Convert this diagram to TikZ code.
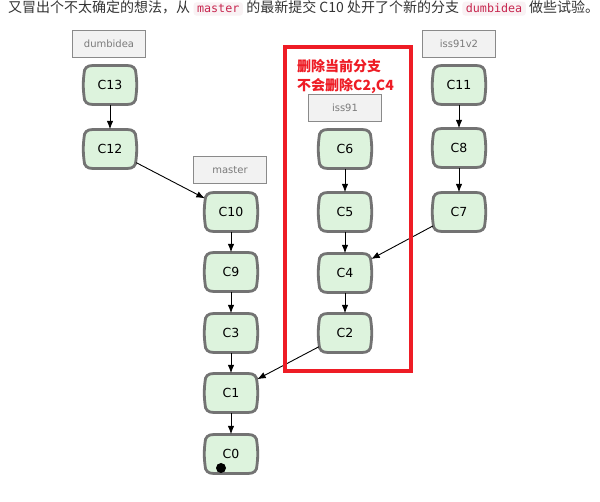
\documentclass[tikz,border=0pt]{standalone}
\usepackage{fontspec}
\setmainfont{DejaVu Sans}
\newfontfamily\cjk{Noto Sans CJK SC}
\newfontfamily\codefont{DejaVu Sans Mono}
\usetikzlibrary{arrows.meta,calc}
\definecolor{commitfill}{HTML}{DDF3DD}
\definecolor{commitdraw}{HTML}{737373}
\definecolor{branchfill}{HTML}{F2F2F2}
\definecolor{branchdraw}{HTML}{8A8A8A}
\definecolor{branchtext}{HTML}{7A7A7A}
\definecolor{alertred}{HTML}{EE1C25}
\definecolor{codered}{HTML}{C7254E}
\definecolor{codebg}{HTML}{F9F2F4}
\definecolor{toptextcol}{HTML}{333333}
\tikzset{
  commit/.style={rectangle, minimum width=52pt, minimum height=39pt, inner sep=0pt, font=\fontsize{12.5}{14}\selectfont},
  commitline/.style={draw=commitdraw, fill=commitfill, line width=2.8pt},
  branch/.style={rectangle, draw=branchdraw, fill=branchfill, line width=1.4pt, minimum width=73pt, minimum height=27pt, inner sep=0pt, text=branchtext, font=\fontsize{10}{12}\selectfont},
  parent/.style={-{Latex[length=8.5pt,width=6.5pt]}, line width=0.9pt, black},
  toptext/.style={inner sep=0pt, text=toptextcol, font=\cjk\fontsize{14}{16}\selectfont},
  code/.style={inner xsep=3.5pt, inner ysep=2.5pt, fill=codebg, rounded corners=3pt, text=codered, font=\codefont\fontsize{11.7}{14}\selectfont},
  alertbox/.style={draw=alertred, line width=4pt},
  alerttext/.style={align=left, inner sep=0pt, text=alertred, font=\cjk\bfseries\fontsize{14}{19}\selectfont}
}
\newcommand\commit[3]{%
  \path[commitline, shift={(#2)}] (-17,-19.5) -- (17,-19.5)
    .. controls (23,-19.5) and (26,-17) .. (26,-11)
    .. controls (27,-4) and (27,4) .. (26,11)
    .. controls (26,17) and (23,19.5) .. (17,19.5) -- (-17,19.5)
    .. controls (-23,19.5) and (-26,17) .. (-26,11)
    .. controls (-27,4) and (-27,-4) .. (-26,-11)
    .. controls (-26,-17) and (-23,-19.5) .. (-17,-19.5) -- cycle;
  \node[commit] (#1) at (#2) {#3};}
\begin{document}
\begin{tikzpicture}[x=1pt,y=-1pt]
\useasboundingbox[fill=white] (0,0) rectangle (600,502);
% top text
\node[toptext, anchor=base west] (t1) at (8,13) {又冒出个不太确定的想法，从};
\node[code, anchor=base west] (t2) at ([xshift=3pt]t1.base east) {master};
\node[toptext, anchor=base west] (t3) at ([xshift=3pt]t2.base east) {的最新提交 C10 处开了个新的分支};
\node[code, anchor=base west] (t4) at ([xshift=3pt]t3.base east) {dumbidea};
\node[toptext, anchor=base west] (t5) at ([xshift=3pt]t4.base east) {做些试验。};
% branches
\node[branch] (bdumb) at (109,44) {dumbidea};
\node[branch] (bmaster) at (230,170) {master};
\node[branch] (biss91) at (345,108) {iss91};
\node[branch] (biss91v2) at (459,44) {iss91v2};
% commits
\commit{C13}{110,85}{C13}
\commit{C12}{110,149}{C12}
\commit{C10}{231,212}{C10}
\commit{C9}{231,272}{C9}
\commit{C3}{231,333}{C3}
\commit{C1}{231,393}{C1}
\commit{C0}{231,454}{C0}
\commit{C6}{345,149}{C6}
\commit{C5}{345,212}{C5}
\commit{C4}{345,273}{C4}
\commit{C2}{345,333}{C2}
\commit{C11}{459,85}{C11}
\commit{C8}{459,148}{C8}
\commit{C7}{459,212}{C7}
\fill[black] (221,468) circle (5);
% edges
\draw[parent] (C13) -- (C12);
\draw[parent] (C12) -- (C10);
\draw[parent] (C10) -- (C9);
\draw[parent] (C9) -- (C3);
\draw[parent] (C3) -- (C1);
\draw[parent] (C1) -- (C0);
\draw[parent] (C6) -- (C5);
\draw[parent] (C5) -- (C4);
\draw[parent] (C4) -- (C2);
\draw[parent] (C2) -- (C1);
\draw[parent] (C11) -- (C8);
\draw[parent] (C8) -- (C7);
\draw[parent] (C7) -- (C4);
% alert box
\draw[alertbox] (285,47) rectangle (411,371);
\node[alerttext, anchor=west] (alert) at (297,77) {删除当前分支\\不会删除C2,C4};
\end{tikzpicture}
\end{document}
